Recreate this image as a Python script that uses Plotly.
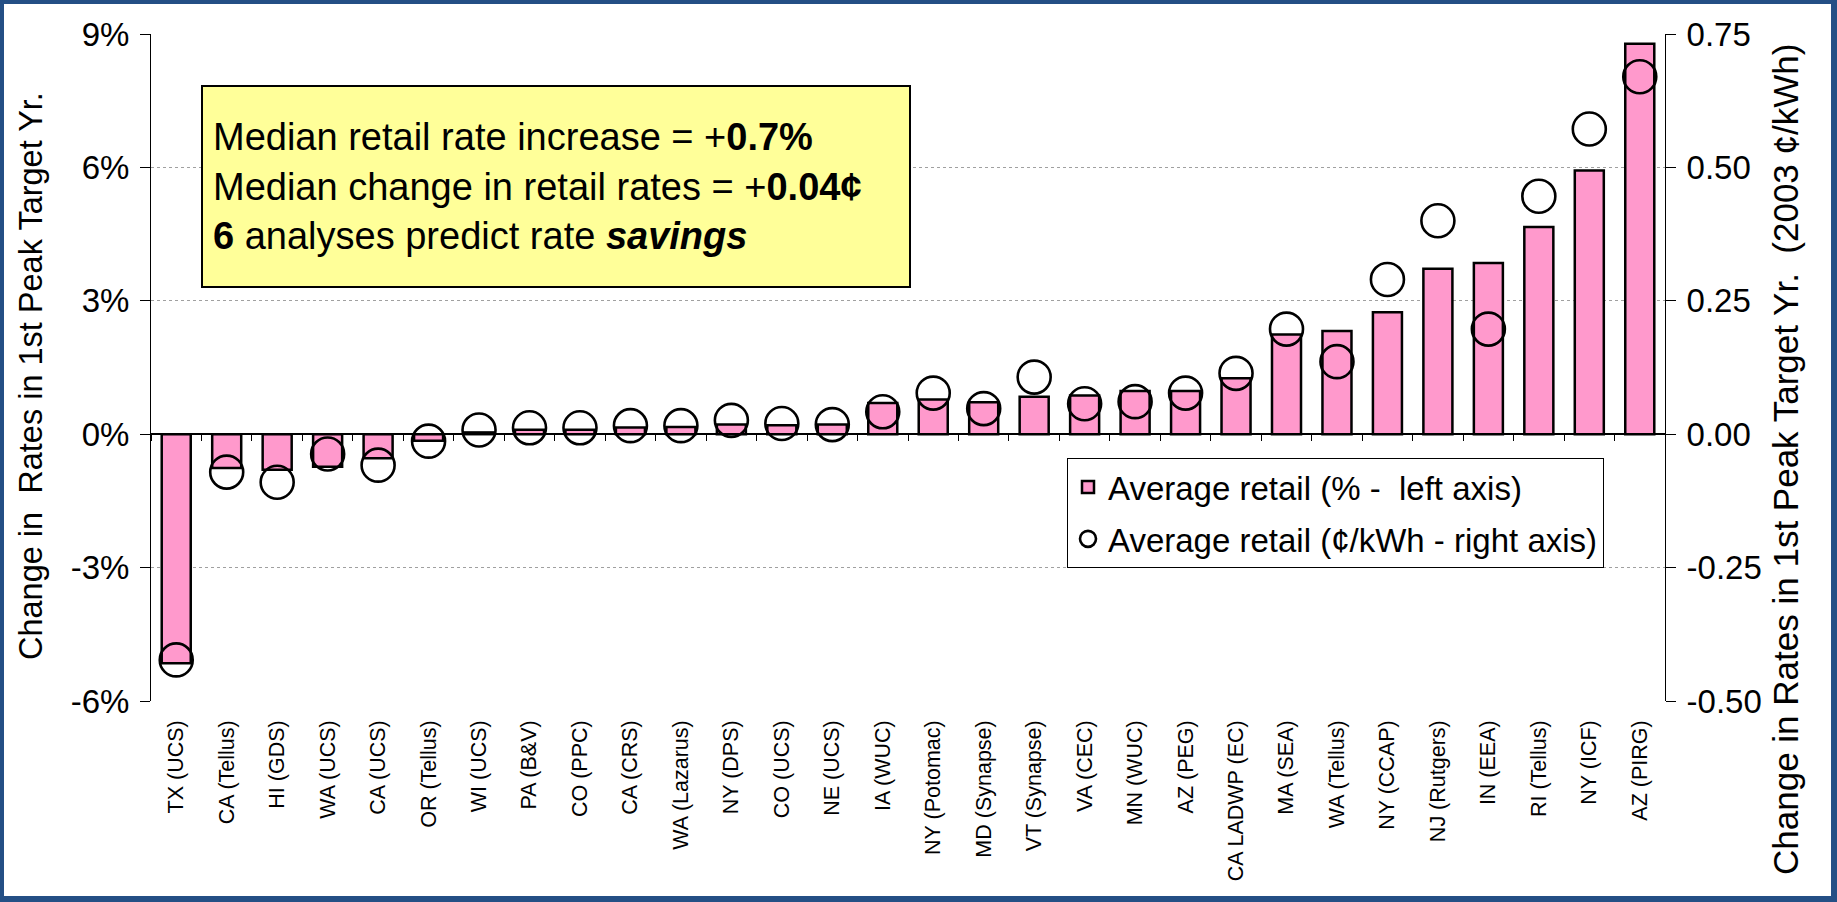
import plotly.graph_objects as go

# ---------------- data ----------------
categories = ['TX (UCS)', 'CA (Tellus)', 'HI (GDS)', 'WA (UCS)', 'CA (UCS)', 'OR (Tellus)',
              'WI (UCS)', 'PA (B&V)', 'CO (PPC)', 'CA (CRS)', 'WA (Lazarus)', 'NY (DPS)',
              'CO (UCS)', 'NE (UCS)', 'IA (WUC)', 'NY (Potomac)', 'MD (Synapse)', 'VT (Synapse)',
              'VA (CEC)', 'MN (WUC)', 'AZ (PEG)', 'CA LADWP (EC)', 'MA (SEA)', 'WA (Tellus)',
              'NY (CCAP)', 'NJ (Rutgers)', 'IN (EEA)', 'RI (Tellus)', 'NY (ICF)', 'AZ (PIRG)']
pct_change = [-5.15, -0.76, -0.80, -0.73, -0.54, -0.15, 0.04, 0.10, 0.10, 0.15, 0.16, 0.22,
              0.20, 0.22, 0.70, 0.78, 0.72, 0.84, 0.87, 0.97, 0.97, 1.26, 2.24, 2.32,
              2.74, 3.72, 3.85, 4.66, 5.93, 8.78]
cent_change = [-0.423, -0.071, -0.090, -0.037, -0.058, -0.013, 0.008, 0.012, 0.012, 0.016,
               0.016, 0.026, 0.020, 0.018, 0.042, 0.077, 0.048, 0.107, 0.057, 0.061,
               0.077, 0.114, 0.197, 0.136, 0.290, 0.400, 0.197, 0.446, 0.572, 0.670]
left_ticks = [-6, -3, 0, 3, 6, 9]
left_labels = ['-6%', '-3%', '0%', '3%', '6%', '9%']
right_ticks = [-0.50, -0.25, 0.00, 0.25, 0.50, 0.75]
right_labels = ['-0.50', '-0.25', '0.00', '0.25', '0.50', '0.75']
bar_name = 'Average retail (% -  left axis)'
circle_name = 'Average retail (¢/kWh - right axis)'
left_title = 'Change in  Rates in 1st Peak Target Yr.'
right_title = 'Change in Rates in 1st Peak Target Yr.  (2003 ¢/kWh)'
note_text = ('Median retail rate increase = +<b>0.7%</b><br>'
             'Median change in retail rates = +<b>0.04¢</b><br>'
             '<b>6</b> analyses predict rate <b><i>savings</i></b>')

# ---------------- layout constants (pixels) ----------------
W, H = 1837, 902
L, R, T, B = 151, 172, 34, 201
PW, PH = W - L - R, H - T - B
FONT = 'Arial, Liberation Sans, sans-serif'
BLUE = '#244F85'
PINK = '#FF99CC'


def px_x(px):
    return (px - L) / PW


def px_y(py):
    return (H - B - py) / PH


ymin, ymax = left_ticks[0], left_ticks[-1]
y2min, y2max = right_ticks[0], right_ticks[-1]
nc = len(categories)

fig = go.Figure()
fig.add_trace(go.Bar(
    x=categories, y=pct_change, name=bar_name, legendgroup='a',
    marker=dict(color=PINK, line=dict(color='black', width=2.5)),
    xaxis='x', yaxis='y'))
fig.add_trace(go.Scatter(
    x=categories, y=cent_change, name=circle_name, legendgroup='b', mode='markers',
    marker=dict(symbol='circle-open', size=33, color='black', line=dict(width=2.6)),
    xaxis='x', yaxis='y2'))
# invisible helper trace so the zero-line category axis (with boundary ticks) is built
fig.add_trace(go.Scatter(
    x=categories, y=pct_change, mode='markers', marker=dict(opacity=0),
    showlegend=False, hoverinfo='skip', xaxis='x2', yaxis='y'))

fig.update_layout(
    width=W, height=H,
    margin=dict(l=L, r=R, t=T, b=B, pad=0),
    paper_bgcolor=BLUE, plot_bgcolor='white',
    font=dict(family=FONT, color='black'),
    bargap=0.425,
    showlegend=True,
    legend=dict(x=px_x(1067), y=px_y(458), xanchor='left', yanchor='top',
                bgcolor='white', bordercolor='black', borderwidth=1,
                font=dict(size=33, family=FONT), tracegroupgap=6,
                itemwidth=30),
    xaxis=dict(type='category', range=[-0.5, nc - 0.5], showline=False, ticks='',
               showgrid=False, zeroline=False, tickangle=-90,
               tickfont=dict(size=21.5, family=FONT), ticklabelstandoff=14,
               automargin=False),
    xaxis2=dict(type='category', overlaying='x', anchor='free',
                position=(0 - ymin) / (ymax - ymin), range=[-0.5, nc - 0.5],
                showline=True, linecolor='black', linewidth=1.5,
                ticks='outside', tickson='boundaries', ticklen=6, tickcolor='black',
                tickwidth=1, showticklabels=False, showgrid=False, zeroline=False,
                automargin=False),
    yaxis=dict(range=[ymin, ymax], tickvals=left_ticks, ticktext=left_labels,
               showgrid=True, gridcolor='#a0a0a0', griddash='dot', gridwidth=1,
               zeroline=False, showline=True, linecolor='black', linewidth=1,
               ticks='outside', ticklen=10, tickcolor='black',
               tickfont=dict(size=33, family=FONT), ticklabelstandoff=4,
               automargin=False),
    yaxis2=dict(range=[y2min, y2max], tickvals=right_ticks, ticktext=right_labels,
                overlaying='y', side='right', anchor='x',
                showgrid=False, zeroline=False, showline=True, linecolor='black',
                linewidth=1, ticks='outside', ticklen=10, tickcolor='black',
                tickfont=dict(size=33, family=FONT), ticklabelstandoff=4,
                automargin=False),
    shapes=[dict(type='rect', xref='paper', yref='paper', layer='below',
                 x0=px_x(4), x1=px_x(W - 6), y0=px_y(H - 6), y1=px_y(4),
                 fillcolor='white', line=dict(width=0))],
    annotations=[
        dict(text=note_text, xref='paper', yref='paper', x=px_x(201), y=px_y(85),
             xanchor='left', yanchor='top', align='left', valign='middle',
             showarrow=False, bgcolor='#FFFF99', bordercolor='black', borderwidth=2,
             borderpad=10, width=686, height=179,
             font=dict(size=38, family=FONT, color='black')),
        dict(text=left_title, xref='paper', yref='paper', x=px_x(31), y=px_y(376),
             xanchor='center', yanchor='middle', textangle=-90, showarrow=False,
             font=dict(size=32.5, family=FONT, color='black')),
        dict(text=right_title, xref='paper', yref='paper', x=px_x(1786), y=px_y(460),
             xanchor='center', yanchor='middle', textangle=-90, showarrow=False,
             font=dict(size=35, family=FONT, color='black')),
    ],
)

fig.write_html('out.html')
